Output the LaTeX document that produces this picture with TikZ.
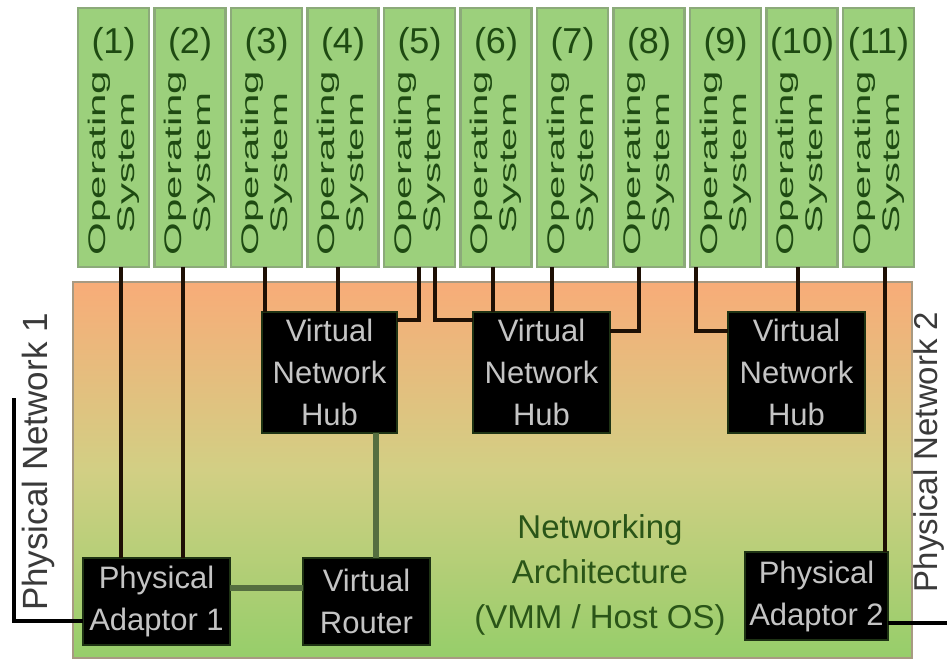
\documentclass[tikz,border=0pt]{standalone}
\usepackage{fontspec}
\setmainfont{Liberation Sans}
\usepackage{graphicx}
\usetikzlibrary{calc}
\definecolor{osfill}{HTML}{9CD07C}
\definecolor{osdraw}{HTML}{8CAA7A}
\definecolor{ostext}{HTML}{1E4A12}
\definecolor{hosttop}{HTML}{F8AC78}
\definecolor{hostmid}{HTML}{D2CF84}
\definecolor{hostbot}{HTML}{96CE6A}
\definecolor{hostdraw}{HTML}{A89A82}
\definecolor{wirec}{HTML}{1E1005}
\definecolor{olivec}{HTML}{556E40}
\definecolor{boxtext}{HTML}{C4C4C4}
\definecolor{blkdraw}{HTML}{1E3314}
\definecolor{archtext}{HTML}{2A5518}
\definecolor{pntext}{HTML}{3A3A3A}
\begin{document}
\begin{tikzpicture}[x=1pt,y=-1pt,
  osbox/.style={draw=osdraw, fill=osfill, line width=2.5pt, minimum width=71pt, minimum height=259pt, inner sep=0pt, outer sep=0pt, anchor=north west},
  osnum/.style={text=ostext, font=\fontsize{36}{40}\selectfont, inner sep=0pt},
  ostxt/.style={text=ostext, rotate=90, align=center, font=\fontsize{24}{29}\selectfont, inner sep=0pt},
  blk/.style={fill=black, draw=blkdraw, line width=2pt, text=boxtext, align=center, font=\fontsize{31}{42}\selectfont, inner sep=0pt, outer sep=0pt},
  wire/.style={draw=wirec, line width=3.5pt},
  owire/.style={draw=olivec, line width=6pt},
  pnlabel/.style={rotate=90, text=pntext, font=\fontsize{35}{40}\selectfont, inner sep=0pt}
]
\fill[white] (0,0) rectangle (947,660);
\useasboundingbox (0,0) rectangle (947,660);

% host area
\node[draw=hostdraw, line width=2.5pt, top color=hosttop, bottom color=hostbot, middle color=hostmid,
      minimum width=839pt, minimum height=376pt, anchor=north west, inner sep=0pt, outer sep=0pt] (host) at (73,282) {};

% guest operating systems
\foreach \i in {1,...,11} {
  \node[osbox] (os\i) at ({1.5+76.5*\i},8) {};
  \node[osnum] (osn\i) at ({37+76.5*\i},44) {(\i)};
  \node[ostxt] (ost\i) at ({37+76.5*\i},163) {\scalebox{1.75}[1]{Operating}\\\scalebox{1.75}[1]{System}};
}

% black boxes
\node[blk, minimum width=135pt, minimum height=121pt] (hub1) at (329.5,372.5) {Virtual\\Network\\Hub};
\node[blk, minimum width=137pt, minimum height=121pt] (hub2) at (541.5,372.5) {Virtual\\Network\\Hub};
\node[blk, minimum width=137pt, minimum height=121pt] (hub3) at (796.5,372.5) {Virtual\\Network\\Hub};
\node[blk, minimum width=147pt, minimum height=87pt] (pa1) at (156.5,601.5) {Physical\\Adaptor 1};
\node[blk, minimum width=127pt, minimum height=87pt] (router) at (366.5,601.5) {Virtual\\Router};
\node[blk, minimum width=143pt, minimum height=88pt] (pa2) at (816.5,596) {Physical\\Adaptor 2};

\node[align=center, text=archtext, font=\fontsize{33}{45}\selectfont, inner sep=0pt] (arch) at (600,575) {Networking\\Architecture\\(VMM / Host OS)};

% physical network labels
\node[pnlabel] (pn1) at (38,462) {Physical Network 1};
\node[pnlabel, font=\fontsize{33}{38}\selectfont] (pn2) at (928.5,452) {Physical Network 2};
\coordinate (pn1end) at (14,398);
\coordinate (pn2end) at (947,623);

% connectors from guests
\draw[wire] ([xshift=7.5pt]os1.south) -- ([xshift=7.5pt]os1.south |- pa1.north);
\draw[wire] ([xshift=-7pt]os2.south) -- ([xshift=-7pt]os2.south |- pa1.north);
\draw[wire] ([xshift=-1.5pt]os3.south) -- ([xshift=-1.5pt]os3.south |- hub1.north);
\draw[wire] ([xshift=-5pt]os4.south) -- ([xshift=-5pt]os4.south |- hub1.north);
\draw[wire] ([xshift=-0.5pt]os5.south) |- ($(hub1.north east)+(0,8)$);
\draw[wire] ([xshift=15.5pt]os5.south) |- ($(hub2.north west)+(0,8)$);
\draw[wire] ([xshift=-3pt]os6.south) -- ([xshift=-3pt]os6.south |- hub2.north);
\draw[wire] ([xshift=-20.5pt]os7.south) -- ([xshift=-20.5pt]os7.south |- hub2.north);
\draw[wire] ([xshift=-10pt]os8.south) |- ($(hub2.north east)+(0,19)$);
\draw[wire] ([xshift=-29.5pt]os9.south) |- ($(hub3.north west)+(0,19)$);
\draw[wire] ([xshift=-4pt]os10.south) -- ([xshift=-4pt]os10.south |- hub3.north);
\draw[wire] ([xshift=6.5pt]os11.south) -- ([xshift=6.5pt]os11.south |- pa2.north);

% internal connectors
\draw[owire] ([xshift=9.5pt]router.north) -- ([xshift=9.5pt]router.north |- hub1.south);
\draw[owire] ([yshift=13.5pt]pa1.east) -- ([yshift=13.5pt]pa1.east -| router.west);

% physical networks
\draw[wire, draw=black] ([yshift=-19.5pt]pa1.west) -| (pn1end);
\draw[wire, draw=black] ([yshift=-27pt]pa2.east) -- (pn2end);
\end{tikzpicture}
\end{document}
